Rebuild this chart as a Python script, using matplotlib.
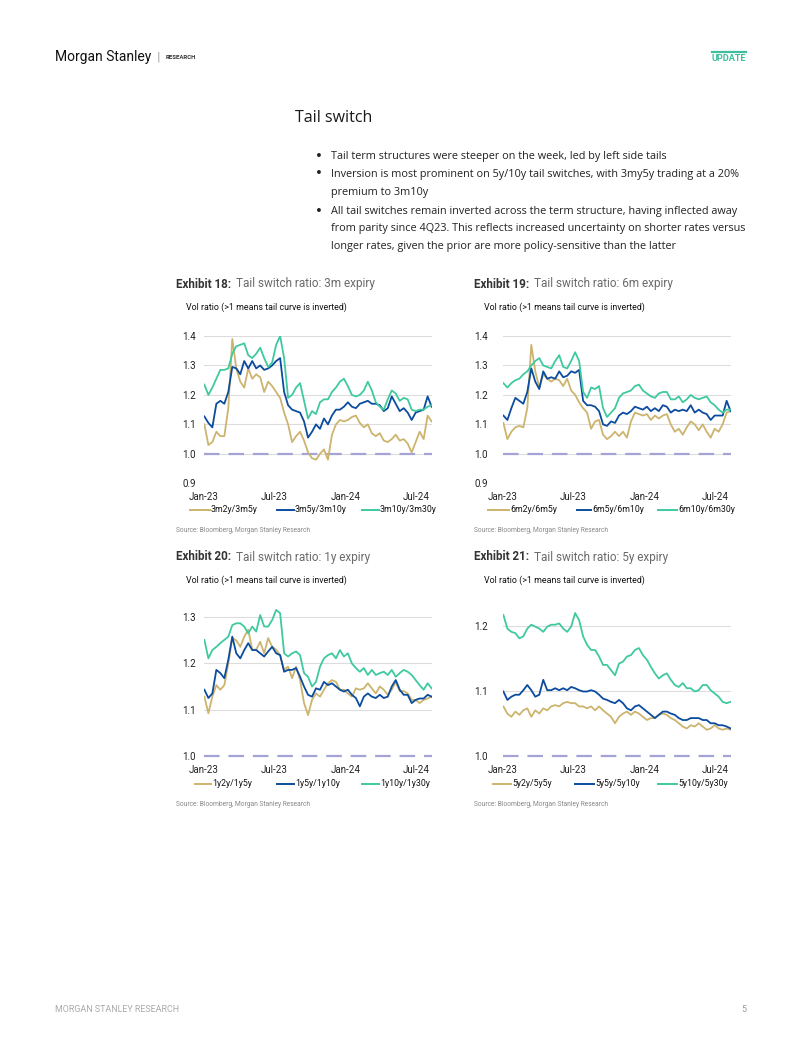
import matplotlib
matplotlib.use("Agg")
import matplotlib.pyplot as plt
from matplotlib import font_manager
from matplotlib.lines import Line2D
import pandas as pd

# ---------------- data ----------------
DATES = pd.date_range("2023-01-02", "2024-08-09", periods=58)

EX18_3m2y_3m5y = [1.10, 1.03, 1.04, 1.075, 1.06, 1.06, 1.155, 1.39, 1.29, 1.245,
                  1.225, 1.29, 1.255, 1.27, 1.26, 1.21, 1.245, 1.23, 1.21, 1.19,
                  1.14, 1.10, 1.04, 1.06, 1.075, 1.045, 1.005, 0.985, 0.98, 1.00,
                  1.015, 0.98, 1.065, 1.10, 1.115, 1.11, 1.115, 1.125, 1.13, 1.105,
                  1.09, 1.10, 1.07, 1.06, 1.07, 1.045, 1.04, 1.05, 1.065, 1.045,
                  1.05, 1.035, 1.005, 1.04, 1.075, 1.05, 1.13, 1.11]
EX18_3m5y_3m10y = [1.127, 1.105, 1.09, 1.17, 1.18, 1.17, 1.21, 1.295, 1.29, 1.27,
                   1.315, 1.29, 1.315, 1.29, 1.30, 1.285, 1.29, 1.30, 1.315, 1.325,
                   1.21, 1.165, 1.15, 1.145, 1.14, 1.11, 1.055, 1.075, 1.10, 1.085,
                   1.12, 1.10, 1.13, 1.15, 1.15, 1.16, 1.175, 1.16, 1.155, 1.17,
                   1.175, 1.18, 1.17, 1.17, 1.165, 1.145, 1.155, 1.195, 1.17, 1.145,
                   1.155, 1.14, 1.115, 1.14, 1.145, 1.15, 1.195, 1.16]
EX18_3m10y_3m30y = [1.235, 1.20, 1.225, 1.255, 1.285, 1.285, 1.29, 1.34, 1.365, 1.37,
                    1.375, 1.335, 1.325, 1.34, 1.36, 1.325, 1.295, 1.31, 1.37, 1.40,
                    1.325, 1.19, 1.20, 1.225, 1.24, 1.18, 1.12, 1.145, 1.135, 1.175,
                    1.185, 1.185, 1.21, 1.225, 1.245, 1.255, 1.23, 1.20, 1.195, 1.20,
                    1.215, 1.245, 1.215, 1.175, 1.16, 1.15, 1.185, 1.215, 1.205, 1.18,
                    1.19, 1.185, 1.15, 1.145, 1.15, 1.15, 1.16, 1.165]

EX19_6m2y_6m5y = [1.105, 1.05, 1.075, 1.09, 1.095, 1.09, 1.155, 1.37, 1.28, 1.225,
                  1.27, 1.255, 1.245, 1.255, 1.25, 1.23, 1.255, 1.215, 1.20, 1.175,
                  1.155, 1.14, 1.085, 1.11, 1.115, 1.065, 1.05, 1.06, 1.075, 1.06,
                  1.075, 1.055, 1.11, 1.14, 1.135, 1.13, 1.135, 1.115, 1.13, 1.12,
                  1.13, 1.135, 1.10, 1.075, 1.085, 1.065, 1.09, 1.11, 1.10, 1.08,
                  1.10, 1.075, 1.055, 1.085, 1.075, 1.10, 1.14, 1.145]
EX19_6m5y_6m10y = [1.13, 1.115, 1.155, 1.19, 1.18, 1.17, 1.21, 1.29, 1.245, 1.22,
                   1.28, 1.255, 1.26, 1.255, 1.28, 1.26, 1.265, 1.28, 1.275, 1.285,
                   1.18, 1.165, 1.165, 1.16, 1.145, 1.10, 1.095, 1.11, 1.105, 1.13,
                   1.14, 1.135, 1.145, 1.16, 1.155, 1.15, 1.16, 1.145, 1.155, 1.145,
                   1.165, 1.16, 1.14, 1.15, 1.145, 1.15, 1.145, 1.165, 1.14, 1.15,
                   1.14, 1.135, 1.115, 1.13, 1.13, 1.13, 1.18, 1.145]
EX19_6m10y_6m30y = [1.24, 1.225, 1.24, 1.25, 1.255, 1.27, 1.28, 1.30, 1.315, 1.325,
                    1.30, 1.295, 1.29, 1.315, 1.335, 1.295, 1.29, 1.315, 1.345, 1.315,
                    1.21, 1.19, 1.225, 1.22, 1.23, 1.155, 1.125, 1.14, 1.155, 1.19,
                    1.205, 1.21, 1.215, 1.23, 1.235, 1.215, 1.205, 1.195, 1.19, 1.205,
                    1.21, 1.21, 1.185, 1.185, 1.195, 1.175, 1.185, 1.20, 1.19, 1.185,
                    1.19, 1.195, 1.175, 1.165, 1.15, 1.14, 1.15, 1.15]

EX20_1y2y_1y5y = [1.128, 1.092, 1.128, 1.153, 1.143, 1.153, 1.20, 1.255, 1.25, 1.236,
                  1.258, 1.273, 1.23, 1.23, 1.247, 1.222, 1.255, 1.236, 1.23, 1.218,
                  1.186, 1.193, 1.168, 1.193, 1.164, 1.114, 1.088, 1.121, 1.135, 1.128,
                  1.143, 1.157, 1.164, 1.16, 1.143, 1.143, 1.135, 1.128, 1.146, 1.143,
                  1.146, 1.157, 1.146, 1.135, 1.15, 1.143, 1.132, 1.143, 1.16, 1.14,
                  1.14, 1.135, 1.121, 1.121, 1.114, 1.121, 1.124, 1.128]
EX20_1y5y_1y10y = [1.143, 1.125, 1.135, 1.186, 1.179, 1.168, 1.208, 1.258, 1.222, 1.211,
                   1.229, 1.244, 1.229, 1.229, 1.222, 1.215, 1.226, 1.236, 1.222, 1.218,
                   1.182, 1.186, 1.186, 1.19, 1.171, 1.15, 1.132, 1.128, 1.146, 1.143,
                   1.16, 1.153, 1.157, 1.15, 1.143, 1.139, 1.143, 1.132, 1.125, 1.107,
                   1.128, 1.135, 1.128, 1.125, 1.132, 1.125, 1.128, 1.15, 1.164, 1.143,
                   1.132, 1.132, 1.114, 1.121, 1.124, 1.124, 1.132, 1.128]
EX20_1y10y_1y30y = [1.251, 1.211, 1.229, 1.236, 1.244, 1.251, 1.258, 1.283, 1.287, 1.287,
                    1.28, 1.265, 1.28, 1.269, 1.305, 1.28, 1.28, 1.294, 1.316, 1.309,
                    1.222, 1.215, 1.222, 1.226, 1.218, 1.179, 1.171, 1.15, 1.16, 1.193,
                    1.211, 1.218, 1.222, 1.211, 1.229, 1.215, 1.222, 1.20, 1.19, 1.182,
                    1.19, 1.175, 1.186, 1.175, 1.179, 1.182, 1.175, 1.186, 1.171, 1.179,
                    1.186, 1.182, 1.175, 1.164, 1.153, 1.143, 1.157, 1.146]

EX21_5y2y_5y5y = [1.076, 1.065, 1.06, 1.068, 1.063, 1.07, 1.073, 1.06, 1.07, 1.065,
                  1.073, 1.07, 1.076, 1.078, 1.076, 1.081, 1.083, 1.081, 1.081, 1.076,
                  1.076, 1.073, 1.076, 1.07, 1.076, 1.07, 1.065, 1.06, 1.05, 1.06,
                  1.065, 1.068, 1.063, 1.068, 1.065, 1.06, 1.055, 1.058, 1.058, 1.063,
                  1.065, 1.063, 1.058, 1.055, 1.05, 1.045, 1.042, 1.047, 1.045, 1.05,
                  1.045, 1.04, 1.042, 1.047, 1.042, 1.04, 1.042, 1.04]
EX21_5y5y_5y10y = [1.099, 1.086, 1.091, 1.094, 1.094, 1.101, 1.109, 1.101, 1.091, 1.094,
                   1.117, 1.101, 1.101, 1.104, 1.101, 1.104, 1.101, 1.106, 1.104, 1.101,
                   1.099, 1.099, 1.101, 1.099, 1.094, 1.088, 1.086, 1.083, 1.081, 1.086,
                   1.081, 1.073, 1.07, 1.076, 1.078, 1.073, 1.068, 1.063, 1.058, 1.063,
                   1.068, 1.068, 1.065, 1.063, 1.058, 1.055, 1.055, 1.058, 1.058, 1.058,
                   1.055, 1.055, 1.05, 1.05, 1.047, 1.047, 1.045, 1.042]
EX21_5y10y_5y30y = [1.217, 1.196, 1.191, 1.189, 1.181, 1.184, 1.196, 1.202, 1.199, 1.196,
                    1.191, 1.199, 1.202, 1.202, 1.204, 1.196, 1.191, 1.199, 1.22, 1.209,
                    1.184, 1.171, 1.163, 1.163, 1.153, 1.14, 1.14, 1.132, 1.124, 1.142,
                    1.145, 1.153, 1.155, 1.163, 1.166, 1.155, 1.148, 1.137, 1.127, 1.119,
                    1.124, 1.127, 1.117, 1.109, 1.106, 1.112, 1.104, 1.104, 1.099, 1.101,
                    1.109, 1.109, 1.101, 1.096, 1.091, 1.083, 1.081, 1.083]

LABELS18 = ["3m2y/3m5y", "3m5y/3m10y", "3m10y/3m30y"]
LABELS19 = ["6m2y/6m5y", "6m5y/6m10y", "6m10y/6m30y"]
LABELS20 = ["1y2y/1y5y", "1y5y/1y10y", "1y10y/1y30y"]
LABELS21 = ["5y2y/5y5y", "5y5y/5y10y", "5y10y/5y30y"]

TICKS18 = [0.9, 1.0, 1.1, 1.2, 1.3, 1.4]
TICKS19 = [0.9, 1.0, 1.1, 1.2, 1.3, 1.4]
TICKS20 = [1.0, 1.1, 1.2, 1.3]
TICKS21 = [1.0, 1.1, 1.2]
XTICKS = ["2023-01-01", "2023-07-01", "2024-01-01", "2024-07-01"]
XTICKLABELS = ["Jan-23", "Jul-23", "Jan-24", "Jul-24"]

BULLETS = [
    ["Tail term structures were steeper on the week, led by left side tails"],
    ["Inversion is most prominent on 5y/10y tail switches, with 3my5y trading at a 20%",
     "premium to 3m10y"],
    ["All tail switches remain inverted across the term structure, having inflected away",
     "from parity since 4Q23. This reflects increased uncertainty on shorter rates versus",
     "longer rates, given the prior are more policy-sensitive than the latter"],
]

# ---------------- style ----------------
GOLD = "#CDB46E"
BLUE = "#0C4C9E"
TEAL = "#3FC9A0"
DASH = "#A3A3D6"
GRID = "#DCDCDC"


def has_font(name):
    try:
        font_manager.findfont(font_manager.FontProperties(family=name),
                              fallback_to_default=False)
        return True
    except Exception:
        return False


COND = "Liberation Sans Narrow" if has_font("Liberation Sans Narrow") else "Roboto"
BODY = "Open Sans"

W, H = 802, 1037
fig = plt.figure(figsize=(W / 100, H / 100), dpi=100)


def fx(x):
    return x / W


def fy(y):
    return 1 - y / H


def txt(x, y, s, **kw):
    kw.setdefault("va", "center")
    kw.setdefault("ha", "left")
    fig.text(fx(x), fy(y), s, **kw)


# header
txt(55, 57, "Morgan Stanley", family="Roboto", fontsize=10, color="#111111")
txt(157, 57, "|", family="DejaVu Sans", fontsize=8, color="#999999")
txt(166, 57.5, "RESEARCH", family="Roboto", fontsize=4.3, weight="bold", color="#333333")
fig.add_artist(Line2D([fx(712), fx(746)], [fy(51.5), fy(51.5)], color="#3DBE9C", lw=1.6))
txt(746, 58.5, "UPDATE", family="Roboto", fontsize=6.6, weight="bold", color="#3DBE9C", ha="right")

# title and bullets
txt(295, 118, "Tail switch", family=BODY, fontsize=11.5, color="#1a1a1a")
ys = [156, 174, 192, 211, 229, 247]
k = 0
for para in BULLETS:
    for j, line in enumerate(para):
        if j == 0:
            txt(315, ys[k], "\u2022", family="DejaVu Sans", fontsize=9.5, color="#222222")
        txt(331, ys[k], line, family=BODY, fontsize=7.8, color="#222222")
        k += 1

# footer
txt(55, 1009, "MORGAN STANLEY RESEARCH", family="Roboto", fontsize=6.4, color="#AAAAAA")
txt(746, 1009, "5", family="Roboto", fontsize=6.4, color="#999999", ha="right")


def panel(left, right, ref_lo, ref_hi, ylim, ticks, series, labels, num, expiry,
          top, ylpad, leg_y, leg_x):
    # ref_lo/ref_hi: (value, pixel) pairs used to place the axes vertically
    (v1, p1), (v2, p2) = ref_lo, ref_hi
    ppu = (p1 - p2) / (v2 - v1)
    pb = p1 + (v1 - ylim[0]) * ppu
    pt = p1 - (ylim[1] - v1) * ppu
    ax = fig.add_axes([fx(left), fy(pb), (right - left) / W, (pb - pt) / H])
    for s in ax.spines.values():
        s.set_visible(False)
    ax.set_ylim(*ylim)
    ax.set_xlim(pd.Timestamp("2023-01-01"), pd.Timestamp("2024-08-10"))
    ax.set_yticks(ticks)
    ax.set_yticklabels([f"{t:.1f}" for t in ticks])
    ax.set_xticks([pd.Timestamp(t) for t in XTICKS])
    ax.set_xticklabels(XTICKLABELS)
    ax.tick_params(length=0, labelsize=7, labelcolor="#222222")
    ax.tick_params(axis="y", pad=ylpad)
    ax.tick_params(axis="x", pad=6.5)
    for lab in ax.get_xticklabels() + ax.get_yticklabels():
        lab.set_family(COND)
    ax.grid(axis="y", color=GRID, lw=0.8)
    ax.set_axisbelow(True)
    ax.axhline(1.0, color=DASH, lw=1.6, dashes=(7, 4), clip_on=False, zorder=2)
    cols = [GOLD, BLUE, TEAL]
    for vals, c in zip(series, cols):
        ax.plot(DATES, vals, color=c, lw=1.3, zorder=3)
    # titles
    txt(top[0], top[1], f"Exhibit {num}:", family="Roboto", fontsize=8.4,
        weight="bold", color="#333333")
    txt(top[0] + 60, top[1], f"Tail switch ratio: {expiry} expiry", family="Roboto",
        fontsize=8.5, color="#6A6A6A")
    txt(top[0] + 10, top[1] + 23, "Vol ratio (>1 means tail curve is inverted)",
        family=COND, fontsize=6.4, color="#111111")
    txt(top[0], top[1] + 247, "Source: Bloomberg, Morgan Stanley Research",
        family="Roboto", fontsize=4.8, color="#888888")
    # legend
    for (hx0, hx1, tx), lab, c in zip(leg_x, labels, cols):
        fig.add_artist(Line2D([fx(hx0), fx(hx1)], [fy(leg_y), fy(leg_y)], color=c, lw=1.4))
        txt(tx, leg_y, lab, family=COND, fontsize=6.3, color="#111111")
    return ax


panel(204, 432, (0.9, 483.3), (1.4, 336), (0.9, 1.4), TICKS18,
      [EX18_3m2y_3m5y, EX18_3m5y_3m10y, EX18_3m10y_3m30y], LABELS18, 18, "3m",
      (176, 284), 6, 510, [(190, 210, 211), (277, 294, 295), (362, 379, 380)])
panel(503, 731, (0.9, 483.3), (1.4, 336), (0.9, 1.4), TICKS19,
      [EX19_6m2y_6m5y, EX19_6m5y_6m10y, EX19_6m10y_6m30y], LABELS19, 19, "6m",
      (474, 284), 11, 510, [(488, 509, 510), (577, 591, 592), (658, 677, 678)])
panel(204, 432, (1.0, 755.7), (1.3, 617.3), (1.0, 1.32), TICKS20,
      [EX20_1y2y_1y5y, EX20_1y5y_1y10y, EX20_1y10y_1y30y], LABELS20, 20, "1y",
      (176, 557), 6, 784, [(195, 211, 212), (277, 294, 295), (362, 379, 380)])
panel(503, 731, (1.0, 755.7), (1.2, 626), (1.0, 1.23), TICKS21,
      [EX21_5y2y_5y5y, EX21_5y5y_5y10y, EX21_5y10y_5y30y], LABELS21, 21, "5y",
      (474, 557), 11, 784, [(493, 511, 512), (575, 594, 595), (658, 677, 678)])

fig.savefig("out.png", dpi=100, facecolor="white")
